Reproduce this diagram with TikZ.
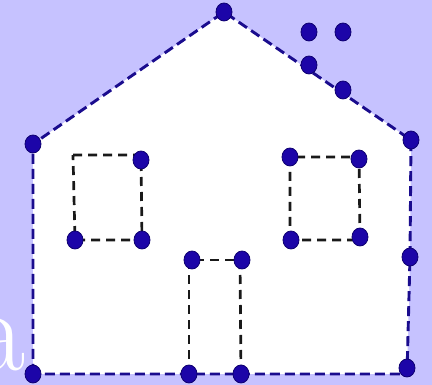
\documentclass[tikz,border=0pt]{standalone}
\usetikzlibrary{shapes.geometric, backgrounds}
\definecolor{lilac}{HTML}{C6C2FF}
\definecolor{inkblue}{HTML}{1A0C8E}
\definecolor{dotblue}{HTML}{1C05A8}
\definecolor{dotrim}{HTML}{0E0070}
\tikzset{
  dot/.style={ellipse, fill=dotblue, draw=dotrim, line width=0.8pt,
              minimum width=16pt, minimum height=18pt, inner sep=0pt},
  outline/.style={draw=inkblue, line width=2.9pt, dash pattern=on 10pt off 5pt},
  frame/.style={draw=black!90, line width=2.7pt, dash pattern=on 9pt off 6pt},
}
\begin{document}
\begin{tikzpicture}[x=1pt, y=-1pt]
\useasboundingbox (0,0) rectangle (432,385);

% house corners
\node[dot] (top) at (224,12) {};
\node[dot] (eaveL) at (33,144) {};
\node[dot] (eaveR) at (411,140) {};
\node[dot] (sideR) at (410,257) {};
\node[dot] (footR) at (407,368) {};
\node[dot] (footL) at (33,374) {};
% chimney
\node[dot] (chimA) at (309,65) {};
\node[dot] (chimB) at (343,90) {};
\node[dot] (chimC) at (309,32) {};
\node[dot] (chimD) at (343,32) {};
% windows
\coordinate (winL1) at (73,155);
\node[dot] (winL2) at (141,160) {};
\node[dot] (winL3) at (142,240) {};
\node[dot] (winL4) at (75,240) {};
\node[dot] (winR1) at (290,157) {};
\node[dot] (winR2) at (359,159) {};
\node[dot] (winR3) at (360,237) {};
\node[dot] (winR4) at (291,240) {};
% door
\node[dot] (doorA) at (192,260) {};
\node[dot] (doorB) at (242,260) {};
\node[dot] (doorC) at (241,374) {};
\node[dot] (doorD) at (189,374) {};

\node[anchor=base east, text=white, inner sep=0pt,
      font=\fontsize{118}{118}\selectfont] (word) at (26,371) {a};

\begin{scope}[on background layer]
  \fill[lilac] (0,0) rectangle (432,385);
  \filldraw[fill=white, outline] (footL.center) -- (eaveL.center) -- (top.center)
    -- (eaveR.center) -- (sideR.center) -- (footR.center |- footL) -- cycle;
  \draw[frame] (winL1) -- (winL1 -| winL2) -- (winL3.center) -- (winL4.center |- winL3) -- cycle;
  \draw[frame] (winR4.center) -- (winR1.center |- winR4) -- (winR1.center) -- (winR1 -| winR2)
    -- (winR3.center) -- (winR3.center |- winR4) -- cycle;
  \draw[frame] (doorD.center) -- (doorD |- doorA) -- (doorB.center);
  \draw[frame] (doorB.center |- doorA) ++(-2,0) -- (doorC.center);
\end{scope}
\end{tikzpicture}
\end{document}
